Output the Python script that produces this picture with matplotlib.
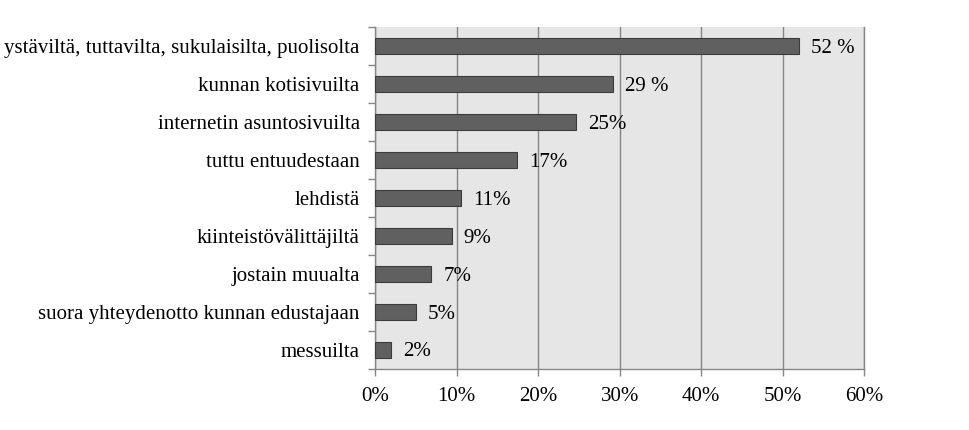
import matplotlib
matplotlib.use("Agg")
import matplotlib.pyplot as plt
from matplotlib.ticker import FuncFormatter, FixedLocator
import numpy as np

categories = [
    "ystäviltä, tuttavilta, sukulaisilta, puolisolta",
    "kunnan kotisivuilta",
    "internetin asuntosivuilta",
    "tuttu entuudestaan",
    "lehdistä",
    "kiinteistövälittäjiltä",
    "jostain muualta",
    "suora yhteydenotto kunnan edustajaan",
    "messuilta",
]
values = [52.0, 29.2, 24.7, 17.4, 10.6, 9.4, 6.9, 5.0, 2.0]
value_labels = ["52 %", "29 %", "25%", "17%", "11%", "9%", "7%", "5%", "2%"]
xticks = [0, 10, 20, 30, 40, 50, 60]

plt.rcParams['font.family'] = ['Liberation Serif', 'DejaVu Serif']

fig = plt.figure(figsize=(9.7, 4.3), dpi=100)
ax = fig.add_axes([0.3866, 0.1419, 0.891 - 0.3866, 0.937 - 0.1419])
ax.set_facecolor('#e6e6e6')

n = len(categories)
y = np.arange(n)[::-1]
ax.barh(y, values, height=0.4, color='#606060', edgecolor='#3c3c3c', linewidth=0.8, zorder=3)

fs = 15
for yi, v, lab in zip(y, values, value_labels):
    ax.annotate(lab, (v, yi), xytext=(12, -2), textcoords='offset pixels',
                va='center', ha='left', fontsize=fs, color='black', zorder=4)

ax.set_xlim(0, 60)
ax.set_ylim(-0.5, n - 0.5)
ax.set_xticks(xticks)
ax.xaxis.set_major_formatter(FuncFormatter(lambda v, p: f"{int(v)}%"))
ax.set_yticks(y)
ax.set_yticklabels(categories)
ax.yaxis.set_minor_locator(FixedLocator(np.arange(-0.5, n, 1.0)))
ax.tick_params(axis='y', which='major', length=0, pad=11, labelsize=fs)
ax.tick_params(axis='y', which='minor', length=5, color='#868686', width=1)
ax.tick_params(axis='x', length=5, color='#868686', width=1, pad=8, labelsize=fs)

ax.grid(axis='x', color='#868686', linewidth=1, zorder=1)
ax.set_axisbelow(True)
for s in ['left', 'bottom', 'right']:
    ax.spines[s].set_color('#868686')
    ax.spines[s].set_linewidth(1)
ax.spines['top'].set_visible(False)

fig.savefig('out.png', dpi=100)
